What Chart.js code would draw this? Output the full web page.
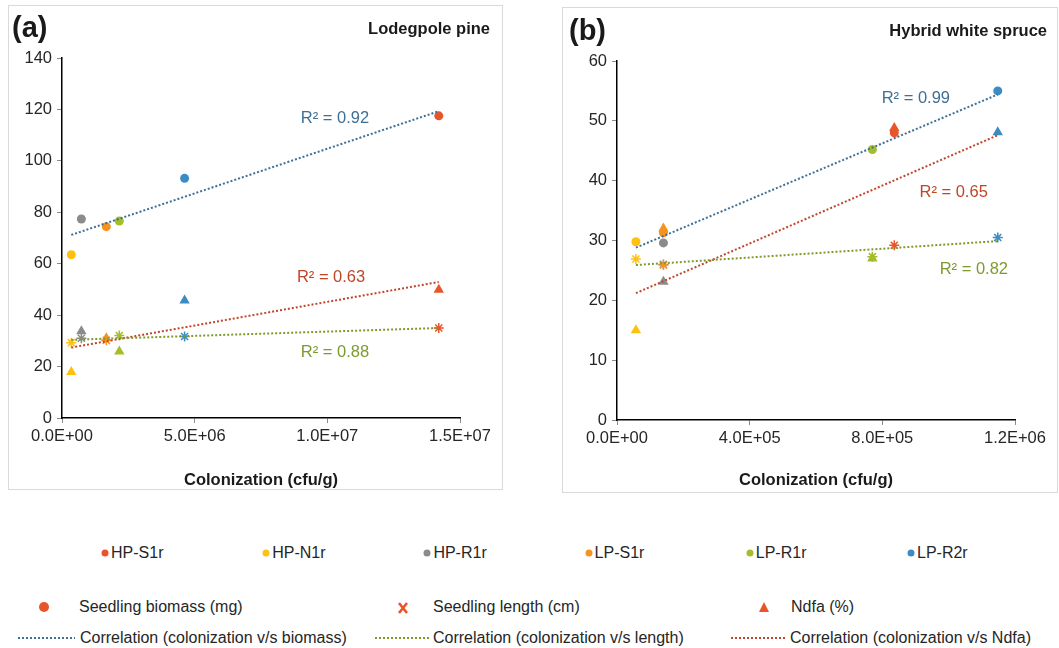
<!DOCTYPE html>
<html>
<head>
<meta charset="utf-8">
<script src="https://cdn.jsdelivr.net/npm/chart.js@4.4.1/dist/chart.umd.min.js"></script>
<style>
  body { margin: 0; width: 1059px; height: 648px; background: #fff; position: relative; overflow: hidden;
         font-family: Arial, "Liberation Sans", sans-serif; color: #262626; }
  .panel { position: absolute; outline: 1px solid #d9d9d9; outline-offset: -1px; }
  .panel canvas { position: absolute; left: 0; top: 0; }
  .tag { position: absolute; font-weight: bold; font-size: 29px; line-height: 29px; color: #1a1a1a; }
  .name { position: absolute; font-weight: bold; font-size: 16.5px; line-height: 18px; color: #1a1a1a; white-space: nowrap; }
  .lg { position: absolute; font-size: 16px; line-height: 20px; white-space: nowrap; }
  svg.mk { position: absolute; overflow: visible; }
</style>
</head>
<body>
<div class="panel" style="left:8px;top:5px;width:495px;height:485px"><canvas id="pine" width="495" height="485"></canvas></div>
<div class="panel" style="left:562px;top:7px;width:496px;height:486px"><canvas id="spruce" width="496" height="486"></canvas></div>
<div class="tag" style="left:12px;top:13px">(a)</div>
<div class="name" style="right:569px;top:19px">Lodegpole pine</div>
<div class="tag" style="left:569px;top:16px">(b)</div>
<div class="name" style="right:12px;top:21px">Hybrid white spruce</div>
<div id="legend"></div>

<script>
const samples = ["HP-S1r", "HP-N1r", "HP-R1r", "LP-S1r", "LP-R1r", "LP-R2r"];
const sampleColors = ["#e8552b", "#fec10f", "#8b8b8b", "#f7921e", "#a3bd2b", "#3b8cc3"];

const measures = ["Seedling biomass (mg)", "Seedling length (cm)", "Ndfa (%)"];
const trendNames = [
  "Correlation (colonization v/s biomass)",
  "Correlation (colonization v/s length)",
  "Correlation (colonization v/s Ndfa)",
];
const trendColors = ["#3f6f94", "#7e9a2d", "#c0462a"];

// (a) Lodgepole pine, one value per sample
const pineColonization = [1.42e7, 3.5e5, 7.3e5, 1.67e6, 2.16e6, 4.62e6];
const pineBiomass = [117.5, 63.5, 77.4, 74.4, 76.6, 93.2];
const pineLength = [35.0, 29.3, 31.0, 30.2, 32.1, 31.7];
const pineNdfa = [49.9, 17.9, 33.7, 31.0, 25.9, 45.7];
const pineTrendBiomass = [[3.5e5, 71.2], [1.42e7, 119.3]];
const pineTrendLength = [[3.5e5, 30.4], [1.42e7, 35.0]];
const pineTrendNdfa = [[3.5e5, 27.4], [1.42e7, 52.9]];
const pineR2 = [0.92, 0.88, 0.63];

// (b) Hybrid white spruce
const spruceColonization = [8.36e5, 5.7e4, 1.4e5, 1.4e5, 7.7e5, 1.148e6];
const spruceBiomass = [48.0, 29.8, 29.6, 31.3, 45.2, 55.0];
const spruceLength = [29.2, 26.9, 26.0, 25.9, 27.3, 30.5];
const spruceNdfa = [48.8, 15.0, 23.1, 32.0, 27.0, 48.1];
const spruceTrendBiomass = [[5.7e4, 28.8], [1.148e6, 54.4]];
const spruceTrendLength = [[5.7e4, 25.9], [1.148e6, 29.9]];
const spruceTrendNdfa = [[5.7e4, 21.2], [1.148e6, 47.6]];
const spruceR2 = [0.99, 0.82, 0.65];

Chart.defaults.font.family = 'Arial, "Liberation Sans", sans-serif';
Chart.defaults.color = "#262626";

function sci(v) {
  if (v === 0) return "0.0E+00";
  const e = Math.floor(Math.log10(v) + 1e-9);
  return (v / Math.pow(10, e)).toFixed(1) + "E+" + String(e).padStart(2, "0");
}

const r2Labels = {
  id: "r2Labels",
  afterDatasetsDraw(chart, args, opts) {
    const { ctx, scales } = chart;
    ctx.save();
    ctx.font = '16.5px Arial, "Liberation Sans", sans-serif';
    ctx.textAlign = "center";
    ctx.textBaseline = "middle";
    for (const item of opts.items) {
      ctx.fillStyle = item.color;
      ctx.fillText(item.text, scales.x.getPixelForValue(item.x), scales.y.getPixelForValue(item.y));
    }
    ctx.restore();
  },
};

function points(xs, ys) {
  return xs.map((x, i) => ({ x, y: ys[i] }));
}

function markerSet(label, xs, ys, style, order) {
  const star = style === "star";
  return {
    label,
    data: points(xs, ys),
    pointStyle: style,
    pointRadius: star ? 5 : style === "triangle" ? 6 : 4.5,
    pointBackgroundColor: sampleColors,
    pointBorderColor: sampleColors,
    pointBorderWidth: star ? 1.5 : 0,
    showLine: false,
    order,
  };
}

function trendSet(label, ends, color) {
  return {
    label,
    data: ends.map(([x, y]) => ({ x, y })),
    showLine: true,
    borderColor: color,
    borderWidth: 2,
    borderDash: [2, 2],
    pointRadius: 0,
    order: 0,
  };
}

function panelChart(canvas, p) {
  const datasets = [
    trendSet(trendNames[0], p.trends[0], trendColors[0]),
    trendSet(trendNames[1], p.trends[1], trendColors[1]),
    trendSet(trendNames[2], p.trends[2], trendColors[2]),
    markerSet(measures[0], p.xs, p.biomass, "circle", 1),
    markerSet(measures[1], p.xs, p.length, "star", 2),
    markerSet(measures[2], p.xs, p.ndfa, "triangle", 3),
  ];
  const tickFont = { size: 16.5 };
  return new Chart(canvas, {
    type: "scatter",
    data: { datasets },
    options: {
      responsive: false,
      animation: false,
      devicePixelRatio: 1,
      layout: { padding: p.padding },
      plugins: {
        legend: { display: false },
        tooltip: { enabled: false },
        r2Labels: { items: p.r2 },
      },
      scales: {
        x: {
          type: "linear",
          min: 0,
          max: p.xMax,
          ticks: { stepSize: p.xStep, callback: sci, font: tickFont, padding: 4, maxRotation: 0, color: "#262626" },
          grid: { drawOnChartArea: false, tickLength: 5, color: "#8c8c8c" },
          border: { color: "#000", width: 1.5 },
          title: { display: true, text: "Colonization (cfu/g)", font: { size: 16.5, weight: "bold" }, color: "#1a1a1a", padding: 0 },
          afterFit(s) { s.height = p.xAxisH; },
        },
        y: {
          min: 0,
          max: p.yMax,
          ticks: { stepSize: p.yStep, font: tickFont, padding: 5, color: "#262626" },
          grid: { drawOnChartArea: false, tickLength: 5, color: "#8c8c8c" },
          border: { color: "#000", width: 1.5 },
          afterFit(s) { s.width = p.yAxisW; },
        },
      },
    },
    plugins: [r2Labels],
  });
}

function r2Items(values, spots) {
  return values.map((v, i) => ({
    text: "R\u00b2 = " + v.toFixed(2),
    color: trendColors[i],
    x: spots[i][0],
    y: spots[i][1],
  }));
}

panelChart(document.getElementById("pine"), {
  xs: pineColonization, biomass: pineBiomass, length: pineLength, ndfa: pineNdfa,
  trends: [pineTrendBiomass, pineTrendLength, pineTrendNdfa],
  r2: r2Items(pineR2, [[1.029e7, 116.3], [1.029e7, 25.3], [1.014e7, 54.8]]),
  xMax: 1.5e7, xStep: 5e6, yMax: 140, yStep: 20,
  padding: { left: 0, top: 53, right: 43, bottom: 0 }, yAxisW: 54, xAxisH: 72,
});

panelChart(document.getElementById("spruce"), {
  xs: spruceColonization, biomass: spruceBiomass, length: spruceLength, ndfa: spruceNdfa,
  trends: [spruceTrendBiomass, spruceTrendLength, spruceTrendNdfa],
  r2: r2Items(spruceR2, [[0.901e6, 53.8], [1.076e6, 25.2], [1.015e6, 38.1]]),
  xMax: 1.2e6, xStep: 4e5, yMax: 60, yStep: 10,
  padding: { left: 0, top: 54, right: 43, bottom: 3 }, yAxisW: 55, xAxisH: 70,
});

// legend below the two panels
const legend = document.getElementById("legend");
function add(html) { legend.insertAdjacentHTML("beforeend", html); }
function text(x, y, t) { add(`<div class="lg" style="left:${x}px;top:${y - 10}px">${t}</div>`); }

samples.forEach((name, i) => {
  const cx = 105 + i * 161.2;
  add(`<svg class="mk" width="8" height="8" style="left:${cx - 4}px;top:${553 - 4}px"><circle cx="4" cy="4" r="3.5" fill="${sampleColors[i]}"/></svg>`);
  text(cx + 6, 553, name);
});

const red = sampleColors[0];
add(`<svg class="mk" width="10" height="10" style="left:39px;top:602px"><circle cx="5" cy="5" r="5" fill="${red}"/></svg>`);
text(79, 607, measures[0]);
add(`<svg class="mk" width="10" height="12" style="left:398px;top:602px"><path d="M1 1 L9 11 M9 1 L1 11" stroke="${red}" stroke-width="2.6"/></svg>`);
text(433, 607, measures[1]);
add(`<svg class="mk" width="10" height="10" style="left:759px;top:602px"><path d="M5 0 L10 10 L0 10 Z" fill="${red}"/></svg>`);
text(791, 607, measures[2]);

[[18, 75, 80], [375, 430, 433], [731, 785, 790]].forEach(([a, b, t], i) => {
  add(`<svg class="mk" width="${b - a}" height="4" style="left:${a}px;top:636px"><line x1="0" y1="2" x2="${b - a}" y2="2" stroke="${trendColors[i]}" stroke-width="2" stroke-dasharray="2 2"/></svg>`);
  text(t, 638, trendNames[i]);
});
</script>
</body>
</html>
